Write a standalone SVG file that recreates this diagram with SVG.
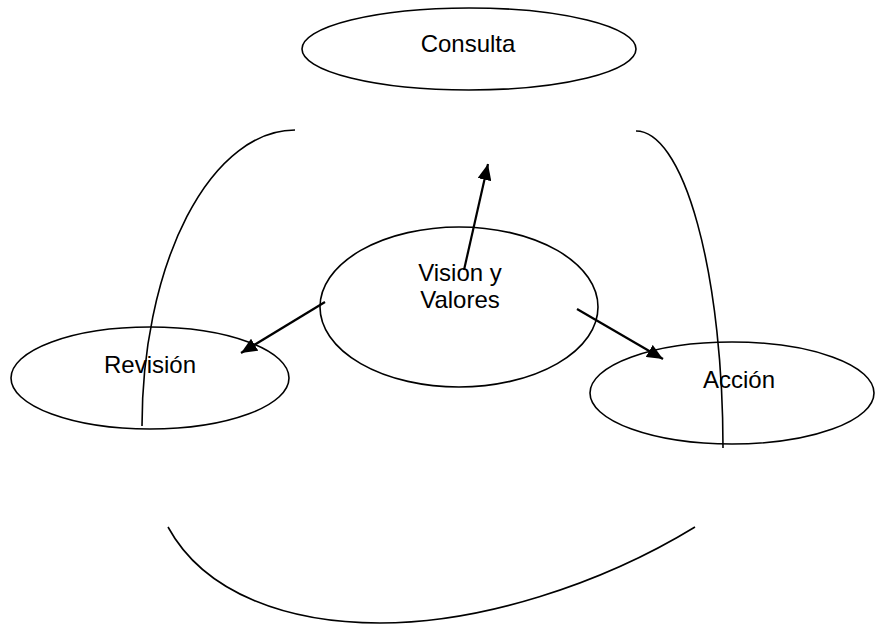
<svg xmlns="http://www.w3.org/2000/svg" width="876" height="626" viewBox="0 0 876 626">
<style>
.node ellipse{fill:#fff;stroke:#000;stroke-width:1.6}
.lbl{font-family:"Liberation Sans",Arial,sans-serif;font-size:24px;fill:#000;text-anchor:middle}
.arc{fill:none;stroke:#000;stroke-width:1.6}
.arr{fill:none;stroke:#000;stroke-width:2.2;marker-end:url(#ah)}
</style>
<defs>
<marker id="ah" markerUnits="userSpaceOnUse" markerWidth="18" markerHeight="14" refX="16" refY="7" orient="auto">
<path d="M0,0 L16,7 L0,14 z" fill="#000"/>
</marker>
</defs>
<rect width="876" height="626" fill="#fff"/>
<g id="consulta" class="node">
<ellipse cx="469" cy="49" rx="167" ry="41"/>
<text class="lbl" x="468" y="52">Consulta</text>
</g>
<g id="vision" class="node">
<ellipse cx="459" cy="307" rx="139" ry="80"/>
<text class="lbl" x="460" y="281">Vision y</text>
<text class="lbl" x="460" y="308">Valores</text>
</g>
<g id="revision" class="node">
<ellipse cx="150" cy="378" rx="139" ry="51"/>
<text class="lbl" x="150" y="373">Revisión</text>
</g>
<g id="accion" class="node">
<ellipse cx="732" cy="393" rx="142" ry="51"/>
<text class="lbl" x="739" y="388">Acción</text>
</g>
<g id="connectors">
<path class="arc" d="M295,130 A153,296 0 0 0 142,426"/>
<path class="arc" d="M636,131 A87,317 0 0 1 723,448"/>
<path class="arc" d="M168,527 C205,595 290,623 380,623 C480,623 600,585 695,527"/>
<line class="arr" x1="464" y1="270" x2="488" y2="164"/>
<line class="arr" x1="325" y1="302" x2="241" y2="353"/>
<line class="arr" x1="577" y1="309" x2="663" y2="359"/>
</g>
</svg>
